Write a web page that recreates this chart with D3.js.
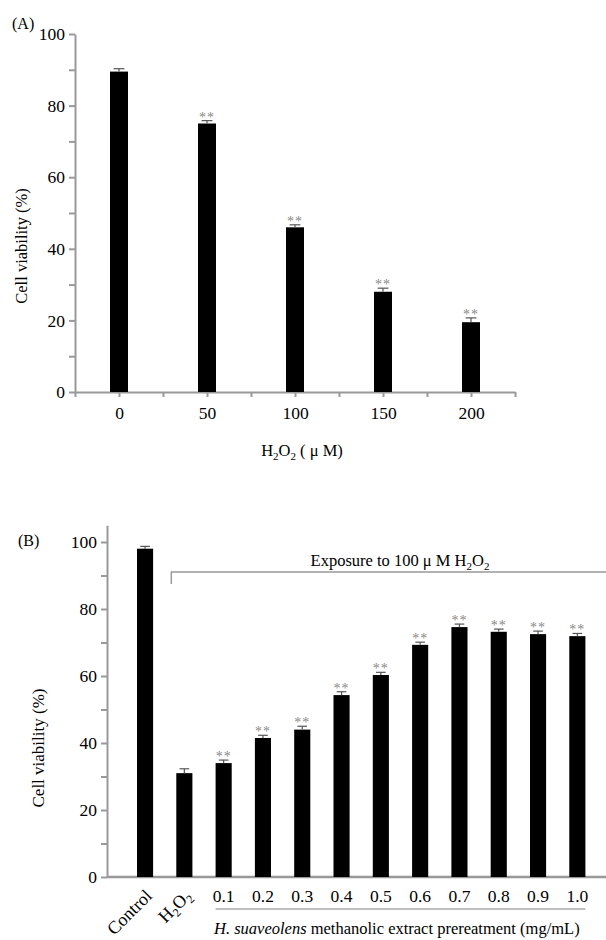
<!DOCTYPE html>
<html>
<head>
  <style>
  body { margin: 0; background: #fff; }
  #chart svg text { font-family: "Liberation Serif", "DejaVu Serif", serif; }
  .axis path, .axis line { stroke: #999; stroke-width: 2; }
  .axis text { fill: #000; }
  </style>
</head>
<body>
  <script src="https://d3js.org/d3.v7.min.js"></script>
  <div id="chart"></div>
  <script>
    // panel A: H2O2 dose response
    const doseA = [0, 50, 100, 150, 200];
    const viabA = [89.5, 75, 46, 28, 19.5];
    const errA = [0.8, 0.8, 0.7, 1.0, 1.2];
    const sigA = ['', '**', '**', '**', '**'];
    const xTicksA = [-25, 0, 25, 50, 75, 100, 125, 150, 175, 200, 225];
    const xLabelsA = [0, 50, 100, 150, 200];

    // panel B: pretreatment with extract
    const catsB = ['Control', 'H2O2', '0.1', '0.2', '0.3', '0.4', '0.5', '0.6', '0.7', '0.8', '0.9', '1.0'];
    const viabB = [98, 31, 34, 41.5, 44, 54.3, 60.3, 69.3, 74.6, 73.2, 72.5, 71.9];
    const errB = [0.7, 1.3, 0.9, 0.8, 1.0, 1.0, 0.8, 0.8, 0.9, 0.8, 0.9, 0.8];
    const sigB = ['', '', '**', '**', '**', '**', '**', '**', '**', '**', '**', '**'];

    const yTicks = [0, 10, 20, 30, 40, 50, 60, 70, 80, 90, 100];
    const yLabels = [0, 20, 40, 60, 80, 100];

    const W = 606, H = 940;
    const svg = d3.select('#chart').append('svg')
      .attr('width', W).attr('height', H)
      .style('font-family', '"Liberation Serif", serif');

    function yAxis(g, scale) {
      g.attr('class', 'axis')
        .call(d3.axisLeft(scale).tickValues(yTicks).tickSize(6).tickSizeOuter(0).tickPadding(4)
          .tickFormat(d => yLabels.includes(d) ? d : ''))
        .attr('font-family', null)
        .selectAll('text').style('font-size', '17.5px');
    }

    function drawBars(g, data, xf, y, bw) {
      g.selectAll('rect.bar').data(data).join('rect')
        .attr('class', 'bar')
        .attr('x', d => xf(d) - bw / 2)
        .attr('width', bw)
        .attr('y', d => y(d.v))
        .attr('height', d => y(0) - y(d.v))
        .attr('fill', '#000');
      // error bars
      g.selectAll('line.err').data(data).join('line')
        .attr('class', 'err')
        .attr('x1', d => xf(d)).attr('x2', d => xf(d))
        .attr('y1', d => y(d.v)).attr('y2', d => y(d.v + d.e))
        .attr('stroke', '#555').attr('stroke-width', 1.2);
      g.selectAll('line.cap').data(data).join('line')
        .attr('class', 'cap')
        .attr('x1', d => xf(d) - bw * 0.3).attr('x2', d => xf(d) + bw * 0.3)
        .attr('y1', d => y(d.v + d.e)).attr('y2', d => y(d.v + d.e))
        .attr('stroke', '#555').attr('stroke-width', 1.2);
      g.selectAll('text.sig').data(data.filter(d => d.s)).join('text')
        .attr('class', 'sig')
        .attr('x', d => xf(d))
        .attr('y', d => y(d.v + d.e) + 1)
        .attr('text-anchor', 'middle')
        .style('font-size', '14px')
        .style('letter-spacing', '1px')
        .attr('fill', '#888')
        .text(d => d.s);
    }

    // ---------- Panel A ----------
    const gA = svg.append('g');
    const xA = d3.scaleLinear().domain([-25, 225]).range([75, 515]);
    const yA = d3.scaleLinear().domain([0, 100]).range([392, 34]);

    gA.append('g').attr('transform', 'translate(0,392)')
      .attr('class', 'axis')
      .call(d3.axisBottom(xA).tickValues(xTicksA).tickSize(5).tickSizeOuter(0).tickPadding(10)
        .tickFormat(d => xLabelsA.includes(d) ? d : ''))
      .attr('font-family', null)
      .selectAll('text').style('font-size', '17.5px');
    gA.append('g').attr('transform', 'translate(75,0)').call(yAxis, yA);

    const dataA = doseA.map((d, i) => ({k: d, v: viabA[i], e: errA[i], s: sigA[i]}));
    drawBars(gA, dataA, d => xA(d.k), yA, 18);

    gA.append('text').attr('x', 12).attr('y', 29).style('font-size', '16px').text('(A)');

    gA.append('text')
      .attr('transform', 'translate(27,246) rotate(-90)')
      .attr('text-anchor', 'middle')
      .style('font-size', '16.5px')
      .text('Cell viability (%)');

    const tA = gA.append('text').attr('x', 302).attr('y', 456)
      .attr('text-anchor', 'middle').style('font-size', '16.5px');
    tA.append('tspan').text('H');
    tA.append('tspan').text('2').attr('dy', 4).style('font-size', '11px');
    tA.append('tspan').text('O').attr('dy', -4);
    tA.append('tspan').text('2').attr('dy', 4).style('font-size', '11px');
    tA.append('tspan').text(' ( \u03bc M)').attr('dy', -4);

    // ---------- Panel B ----------
    const gB = svg.append('g');
    const xB = d3.scaleBand().domain(catsB).range([125.4, 597]).paddingInner(0.59).paddingOuter(0.295);
    const yB = d3.scaleLinear().domain([0, 105]).range([877, 525.25]);

    gB.append('line').attr('class', 'axisline')
      .attr('x1', 107).attr('x2', 606).attr('y1', 877).attr('y2', 877)
      .attr('stroke', '#999').attr('stroke-width', 2.5);
    gB.append('g').attr('transform', 'translate(107,0)').call(yAxis, yB);

    const dataB = catsB.map((c, i) => ({k: c, v: viabB[i], e: errB[i], s: sigB[i]}));
    const cx = d => xB(d.k) + xB.bandwidth() / 2;
    drawBars(gB, dataB, cx, yB, xB.bandwidth());

    // category labels
    const rot = dataB.slice(0, 2);
    gB.selectAll('text.rot').data(rot).join('text')
      .attr('class', 'rot')
      .attr('transform', d => `translate(${cx(d) + 8},${897}) rotate(-45)`)
      .attr('text-anchor', 'end')
      .style('font-size', '18px')
      .each(function(d) {
        const t = d3.select(this);
        if (d.k === 'H2O2') {
          t.append('tspan').text('H');
          t.append('tspan').text('2').attr('dy', 4).style('font-size', '12px');
          t.append('tspan').text('O').attr('dy', -4);
          t.append('tspan').text('2').attr('dy', 4).style('font-size', '12px');
        } else {
          t.text(d.k);
        }
      });
    gB.selectAll('text.num').data(dataB.slice(2)).join('text')
      .attr('class', 'num')
      .attr('x', cx).attr('y', 902)
      .attr('text-anchor', 'middle')
      .style('font-size', '17.5px')
      .text(d => d.k);

    gB.append('line')
      .attr('x1', xB('0.1')).attr('x2', xB('1.0') + xB.bandwidth())
      .attr('y1', 909).attr('y2', 909)
      .attr('stroke', '#aaa').attr('stroke-width', 1.5);

    const tB = gB.append('text').attr('x', 214).attr('y', 934).style('font-size', '16.5px');
    tB.append('tspan').text('H. suaveolens').style('font-style', 'italic');
    tB.append('tspan').text(' methanolic extract prereatment (mg/mL)');

    // bracket for H2O2 exposure
    const bx = xB('H2O2') - 5;
    gB.append('path')
      .attr('d', `M${bx},584V572H606`)
      .attr('fill', 'none').attr('stroke', '#999').attr('stroke-width', 1.5);
    const tE = gB.append('text').attr('x', 400).attr('y', 566)
      .attr('text-anchor', 'middle').style('font-size', '16.5px');
    tE.append('tspan').text('Exposure to 100  \u03bc M H');
    tE.append('tspan').text('2').attr('dy', 4).style('font-size', '11px');
    tE.append('tspan').text('O').attr('dy', -4);
    tE.append('tspan').text('2').attr('dy', 4).style('font-size', '11px');

    gB.append('text').attr('x', 18).attr('y', 546).style('font-size', '16px').text('(B)');

    gB.append('text')
      .attr('transform', 'translate(44,748) rotate(-90)')
      .attr('text-anchor', 'middle')
      .style('font-size', '17px')
      .text('Cell viability (%)');
  </script>
</body>
</html>
